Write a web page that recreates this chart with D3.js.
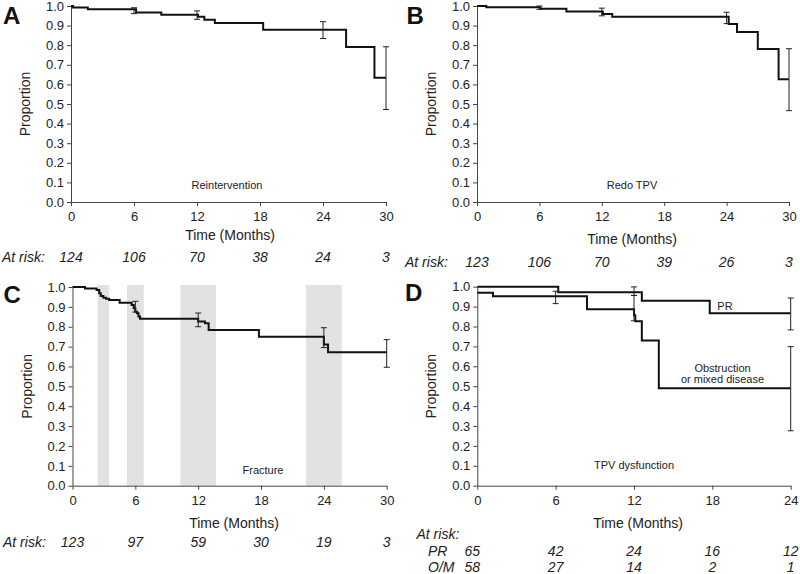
<!DOCTYPE html>
<html>
<head>
<meta charset="utf-8">
<script src="https://cdn.jsdelivr.net/npm/d3@7"></script>
<style>
  html, body { margin: 0; padding: 0; background: #fff; }
  svg { display: block; font-family: "Liberation Sans", Arial, sans-serif; }
</style>
</head>
<body>
<svg id="chart" width="800" height="574"></svg>
<script>
// ---------------- DATA ----------------
const yTickValues = [0, 0.1, 0.2, 0.3, 0.4, 0.5, 0.6, 0.7, 0.8, 0.9, 1.0];
const xTicks30 = [0, 6, 12, 18, 24, 30];
const xTicks24 = [0, 6, 12, 18, 24];

// A: Reintervention  [time (months), proportion]
const reinterventionSteps = [[0, 1], [0.2, 0.992], [1.6, 0.983], [6.2, 0.967], [8.6, 0.955],
  [12.1, 0.945], [12.7, 0.93], [13.7, 0.913], [18.3, 0.879], [26.2, 0.791], [28.9, 0.634]];
const reinterventionCI = [[6, 0.961, 0.991], [12, 0.932, 0.975], [24, 0.834, 0.92], [30, 0.472, 0.792]];
const reinterventionAtRisk = [124, 106, 70, 38, 24, 3];

// B: Redo TPV
const redoSteps = [[0, 1], [0.9, 0.993], [6.1, 0.986], [8.6, 0.972], [12.1, 0.959], [13.0, 0.945],
  [24.2, 0.908], [25.0, 0.867], [27.0, 0.781], [29.0, 0.626]];
const redoCI = [[6, 0.983, 1.0], [12, 0.95, 0.989], [24, 0.91, 0.968], [30, 0.466, 0.782]];
const redoAtRisk = [123, 106, 70, 39, 26, 3];

// C: Fracture
const fractureSteps = [[0, 1], [1.2, 0.993], [2.3, 0.985], [2.55, 0.968], [2.7, 0.955], [2.95, 0.946],
  [3.2, 0.941], [3.5, 0.935], [4.5, 0.921], [5.65, 0.909], [5.85, 0.893], [6.0, 0.876], [6.15, 0.868],
  [6.3, 0.851], [6.45, 0.84], [12.0, 0.827], [12.65, 0.817], [13.0, 0.784], [17.8, 0.75],
  [24.0, 0.71], [24.4, 0.671]];
const fractureCI = [[6, 0.874, 0.928], [12, 0.80, 0.869], [24, 0.695, 0.795], [30, 0.596, 0.735]];
const fractureBands = [[2.4, 3.5], [5.2, 6.8], [10.3, 13.7], [22.3, 25.7]];
const fractureAtRisk = [123, 97, 59, 30, 19, 3];

// D: TPV dysfunction
const prSteps = [[0, 1], [6.2, 0.972], [12.6, 0.929], [17.8, 0.867]];
const prCI = [[12, 0.956, 0.999], [24, 0.783, 0.943]];
const omSteps = [[0, 0.97], [1.2, 0.952], [8.4, 0.887], [12.0, 0.857], [12.1, 0.826], [12.6, 0.73], [13.9, 0.49]];
const omCI = [[6, 0.915, 0.977], [12, 0.829, 0.956], [24, 0.276, 0.699]];
const prAtRisk = [65, 42, 24, 16, 12];
const omAtRisk = [58, 27, 14, 2, 1];

// ---------------- DRAW ----------------
const svg = d3.select("#chart");
const FONT = '"Liberation Sans", Arial, sans-serif';

function panel(cfg) {
  const g = svg.append("g");
  const x = d3.scaleLinear().domain([0, cfg.xMax]).range(cfg.xRange);
  const y = d3.scaleLinear().domain([0, 1]).range(cfg.yRange);

  // shaded bands
  if (cfg.bands) {
    g.selectAll("rect.band").data(cfg.bands).enter().append("rect")
      .attr("x", d => x(d[0])).attr("width", d => x(d[1]) - x(d[0]))
      .attr("y", y(1.01)).attr("height", y(0) - y(1.01))
      .attr("fill", "#e2e2e2");
  }

  // axes
  const ya = g.append("g").attr("transform", `translate(${x(0)},0)`)
    .call(d3.axisLeft(y).tickValues(yTickValues).tickFormat(d3.format(".1f"))
      .tickSize(4).tickSizeOuter(0).tickPadding(3));
  const xa = g.append("g").attr("transform", `translate(0,${y(0)})`)
    .call(d3.axisBottom(x).tickValues(cfg.xTicks).tickFormat(d3.format("d"))
      .tickSize(4).tickSizeOuter(0).tickPadding(6));
  [ya, xa].forEach(a => {
    a.selectAll("path,line").attr("stroke", "#444").attr("stroke-width", 1);
    a.selectAll("text").attr("font-size", 13).attr("fill", "#222").attr("font-family", FONT);
  });

  const line = d3.line().x(d => x(d[0])).y(d => y(d[1])).curve(d3.curveStepAfter);
  cfg.curves.forEach(c => {
    const pts = c.steps.concat([[cfg.xMax, c.steps[c.steps.length - 1][1]]]);
    g.append("path").datum(pts).attr("d", line)
      .attr("fill", "none").attr("stroke", "#111").attr("stroke-width", 2);
    const eb = g.append("g").attr("stroke", "#222").attr("stroke-width", 1);
    c.ci.forEach(d => {
      eb.append("line").attr("x1", x(d[0])).attr("x2", x(d[0])).attr("y1", y(d[1])).attr("y2", y(d[2]));
      [d[1], d[2]].forEach(v => {
        eb.append("line").attr("x1", x(d[0]) - 3).attr("x2", x(d[0]) + 3).attr("y1", y(v)).attr("y2", y(v));
      });
    });
  });

  // panel letter
  g.append("text").attr("x", cfg.letterPos[0]).attr("y", cfg.letterPos[1])
    .attr("font-size", 24).attr("font-weight", "bold").attr("fill", "#111").text(cfg.letter);

  // y label
  g.append("text").attr("transform", `translate(${cfg.yLabelX},${(y(0) + y(1)) / 2}) rotate(-90)`)
    .attr("text-anchor", "middle").attr("font-size", 14).attr("fill", "#222").text("Proportion");

  // x label
  g.append("text").attr("x", cfg.xLabelPos[0]).attr("y", cfg.xLabelPos[1])
    .attr("text-anchor", "middle").attr("font-size", 14).attr("fill", "#222").text("Time (Months)");

  // annotations
  cfg.notes.forEach(n => {
    g.append("text").attr("x", n[1]).attr("y", n[2]).attr("text-anchor", "middle")
      .attr("font-size", 11).attr("fill", "#222").text(n[0]);
  });

  // at risk
  cfg.riskRows.forEach(r => {
    if (r.label) {
      g.append("text").attr("x", r.labelX).attr("y", r.y).attr("font-size", 14)
        .attr("font-style", "italic").attr("fill", "#222").text(r.label);
    }
    if (r.values) {
      g.selectAll(null).data(r.values).enter().append("text")
        .attr("x", (d, i) => x(cfg.xTicks[i]) + (i === 0 ? (r.firstOffset || 0) : 0))
        .attr("y", r.y).attr("text-anchor", "middle").attr("font-size", 14)
        .attr("font-style", "italic").attr("fill", "#222").text(d => d);
    }
  });
}

panel({
  letter: "A", letterPos: [3, 23.5], xMax: 30, xTicks: xTicks30,
  xRange: [71, 386], yRange: [202, 6], yLabelX: 30, xLabelPos: [230, 239.5],
  curves: [{ steps: reinterventionSteps, ci: reinterventionCI }],
  notes: [["Reintervention", 227, 189]],
  riskRows: [{ label: "At risk:", labelX: 2, y: 261.5, values: reinterventionAtRisk }]
});

panel({
  letter: "B", letterPos: [406.5, 24], xMax: 30, xTicks: xTicks30,
  xRange: [477, 789], yRange: [202, 6], yLabelX: 436, xLabelPos: [632, 244],
  curves: [{ steps: redoSteps, ci: redoCI }],
  notes: [["Redo TPV", 632, 189]],
  riskRows: [{ label: "At risk:", labelX: 405, y: 266.5, values: redoAtRisk }]
});

panel({
  letter: "C", letterPos: [3.5, 303], xMax: 30, xTicks: xTicks30,
  xRange: [72.5, 386.7], yRange: [485.7, 287], yLabelX: 32, xLabelPos: [234, 527.5],
  bands: fractureBands,
  curves: [{ steps: fractureSteps, ci: fractureCI }],
  notes: [["Fracture", 263, 474]],
  riskRows: [{ label: "At risk:", labelX: 3, y: 547, values: fractureAtRisk }]
});

panel({
  letter: "D", letterPos: [405, 301], xMax: 24, xTicks: xTicks24,
  xRange: [477.3, 790.7], yRange: [485.7, 286.7], yLabelX: 436, xLabelPos: [638, 527.5],
  curves: [{ steps: prSteps, ci: prCI }, { steps: omSteps, ci: omCI }],
  notes: [["PR", 725, 310], ["Obstruction", 722.5, 371.5], ["or mixed disease", 722.5, 382.5], ["TPV dysfunction", 634, 468.5]],
  riskRows: [
    { label: "At risk:", labelX: 416.5, y: 538.5 },
    { label: "PR", labelX: 428, y: 556, values: prAtRisk, firstOffset: -5 },
    { label: "O/M", labelX: 428, y: 572, values: omAtRisk, firstOffset: -5 }
  ]
});
</script>
</body>
</html>
